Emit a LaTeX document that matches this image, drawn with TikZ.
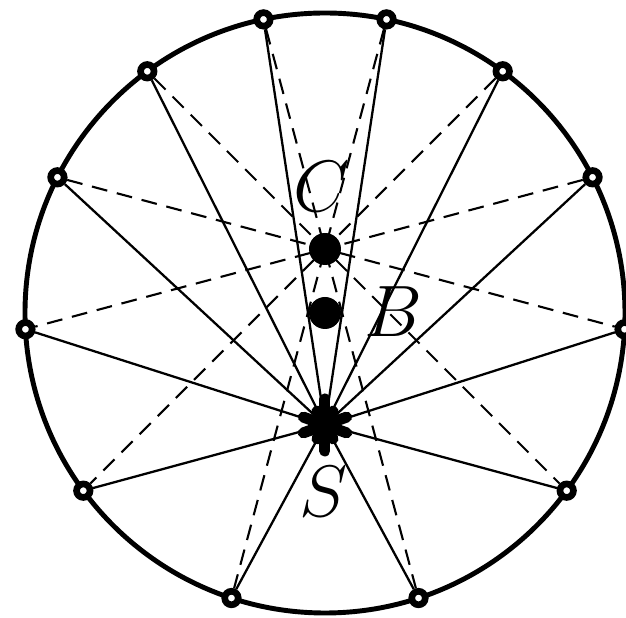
\documentclass[tikz,border=0pt]{standalone}
\usetikzlibrary{calc}
\tikzset{
  pt/.style={circle, draw, fill=white, line width=1.9pt, inner sep=0pt, minimum size=0.135cm},
  dot/.style={circle, fill, inner sep=0pt, minimum size=0.32cm},
  chord/.style={dash pattern=on 4.5pt off 2.8pt, line width=0.6pt},
  ray/.style={line width=0.65pt},
  petal/.style={line width=0.11cm, line cap=round},
  lbl/.style={font=\huge},
}

\begin{document}
\begin{tikzpicture}
    \useasboundingbox (-3.25,-3.05) rectangle (3.01,3.13);
    \draw[line width=1.4pt] (0,0) circle (3);
    \node[dot] (B) at (0,0) {};
    \node[dot] (C) at (0,0.64) {};
    \coordinate (S) at (0,-1.12);
    % ends of the six chords through C, 30 degrees apart
    \foreach \a [count=\i] in {15,45,...,165} {
      \path (C) ++(\a:{sqrt(9-0.4096*cos(\a)*cos(\a))-0.64*sin(\a)}) node[pt] (u\i) {};
      \path (C) ++({\a+180}:{sqrt(9-0.4096*cos(\a)*cos(\a))+0.64*sin(\a)}) node[pt] (v\i) {};
    }
    \foreach \i in {1,...,6} {
      \draw[chord] (u\i) -- (v\i);
      \draw[ray] (S) -- (u\i);
      \draw[ray] (S) -- (v\i);
    }
    % the star at S
    \fill (S) circle (0.14);
    \foreach \a/\l in {90/0.26, 270/0.26, 20/0.23, 160/0.23, 200/0.23, 340/0.23,
                       60/0.16, 120/0.16, 240/0.16, 300/0.16}
      \draw[petal] (S) -- ++(\a:\l);
    \node[lbl] (lc) at (-0.03,1.26) {$C$};
    \node[lbl] (lb) at (0.68,0.01) {$B$};
    \node[lbl] (ls) at (-0.01,-1.79) {$S$};
\end{tikzpicture}
\end{document}
